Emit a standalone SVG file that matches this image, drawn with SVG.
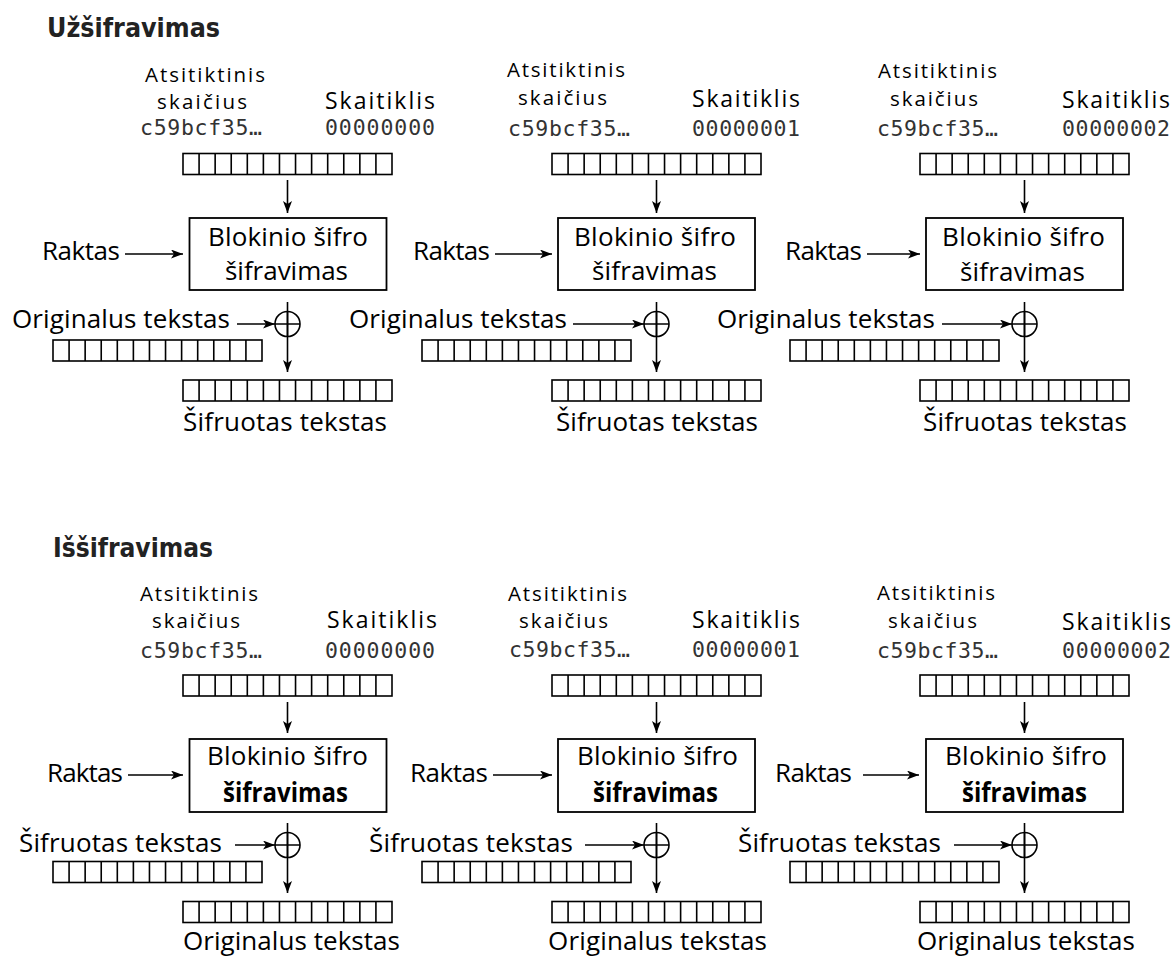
<svg xmlns="http://www.w3.org/2000/svg" xmlns:xlink="http://www.w3.org/1999/xlink" width="1176" height="956" viewBox="0 0 1176 956">
  <style>
    .ln { fill: none; stroke: #000; stroke-width: 1.6; }
    .arr { fill: none; stroke: #000; stroke-width: 1.6; marker-end: url(#ah); }
    .box { fill: #fff; stroke: #000; stroke-width: 1.8; }
    .t { font-family: "Open Sans", "Noto Sans", sans-serif; fill: #000; }
    .big { font-size: 26px; }
    .sm { font-size: 20.5px; }
    .md { font-size: 23px; }
    .b { font-weight: bold; }
    .mono { font-family: "DejaVu Sans Mono", "Liberation Mono", monospace; font-size: 21.5px; fill: #333; }
    .title { font-family: "DejaVu Sans", sans-serif; font-weight: bold; font-size: 26px; fill: #222; }
  </style>
  <defs>
    <marker id="ah" markerWidth="13" markerHeight="10" refX="12" refY="4.5" orient="auto" markerUnits="userSpaceOnUse">
      <path d="M0,0 L12,4.5 L0,9 L3,4.5 z" fill="#000"/>
    </marker>
    <!-- 13-cell block register -->
    <g id="reg">
      <rect class="ln" x="0" y="0" width="209" height="21"/>
      <path class="ln" d="M16.08 0V21M32.15 0V21M48.23 0V21M64.31 0V21M80.38 0V21M96.46 0V21M112.54 0V21M128.62 0V21M144.69 0V21M160.77 0V21M176.85 0V21M192.92 0V21"/>
    </g>
    <!-- XOR operator -->
    <g id="xor">
      <circle class="ln" cx="0" cy="0" r="12.5" fill="#fff"/>
      <path class="ln" d="M-12.5 0H12.5M0 -12.5V12.5"/>
    </g>
  </defs>

  <rect width="1176" height="956" fill="#fff"/>

  <!-- ===== Encryption ===== -->
  <text class="title" x="47" y="37" textLength="173" lengthAdjust="spacingAndGlyphs">Užšifravimas</text>

  <!-- column 1 -->
  <g id="enc1-counter">
    <text class="t sm" x="145" y="82" textLength="120">Atsitiktinis</text>
    <text class="t sm" x="157" y="109" textLength="90">skaičius</text>
    <text class="mono" x="140" y="135" textLength="122">c59bcf35…</text>
    <text class="t md" x="325" y="109" textLength="110">Skaitiklis</text>
    <text class="mono" x="325" y="135" textLength="110">00000000</text>
    <use href="#reg" x="183" y="153.5"/>
  </g>
  <g id="enc1-key"><text class="t big" x="42" y="260" textLength="78">Raktas</text></g>
  <g id="enc1-cipher">
    <rect class="box" x="189.5" y="218" width="197" height="72"/>
    <text class="t big" x="208" y="246" textLength="160">Blokinio šifro</text>
    <text class="t big" x="225" y="280" textLength="123">šifravimas</text>
  </g>
  <g id="enc1-plain">
    <text class="t big" x="12" y="328" textLength="218">Originalus tekstas</text>
    <use href="#reg" x="53" y="340"/>
  </g>
  <g id="enc1-out">
    <use href="#reg" x="183" y="380"/>
    <text class="t big" x="183" y="431" textLength="204">Šifruotas tekstas</text>
  </g>

  <!-- column 2 -->
  <g id="enc2-counter">
    <text class="t sm" x="507" y="77" textLength="118">Atsitiktinis</text>
    <text class="t sm" x="518" y="105" textLength="89">skaičius</text>
    <text class="mono" x="508" y="136" textLength="122">c59bcf35…</text>
    <text class="t md" x="692" y="107" textLength="108">Skaitiklis</text>
    <text class="mono" x="692" y="136" textLength="108">00000001</text>
    <use href="#reg" x="552" y="153.5"/>
  </g>
  <g id="enc2-key"><text class="t big" x="413" y="260" textLength="77">Raktas</text></g>
  <g id="enc2-cipher">
    <rect class="box" x="558" y="218" width="197" height="72"/>
    <text class="t big" x="574" y="246" textLength="162">Blokinio šifro</text>
    <text class="t big" x="592" y="280" textLength="125">šifravimas</text>
  </g>
  <g id="enc2-plain">
    <text class="t big" x="349" y="328" textLength="218">Originalus tekstas</text>
    <use href="#reg" x="422" y="340"/>
  </g>
  <g id="enc2-out">
    <use href="#reg" x="552" y="380"/>
    <text class="t big" x="556" y="431" textLength="202">Šifruotas tekstas</text>
  </g>

  <!-- column 3 -->
  <g id="enc3-counter">
    <text class="t sm" x="878" y="78" textLength="119">Atsitiktinis</text>
    <text class="t sm" x="890" y="106" textLength="88">skaičius</text>
    <text class="mono" x="877" y="136" textLength="121">c59bcf35…</text>
    <text class="t md" x="1062" y="108" textLength="108">Skaitiklis</text>
    <text class="mono" x="1062" y="136" textLength="108">00000002</text>
    <use href="#reg" x="920" y="153.5"/>
  </g>
  <g id="enc3-key"><text class="t big" x="785" y="260" textLength="77">Raktas</text></g>
  <g id="enc3-cipher">
    <rect class="box" x="926" y="218" width="197" height="72"/>
    <text class="t big" x="942" y="246" textLength="163">Blokinio šifro</text>
    <text class="t big" x="960" y="281" textLength="125">šifravimas</text>
  </g>
  <g id="enc3-plain">
    <text class="t big" x="717" y="328" textLength="218">Originalus tekstas</text>
    <use href="#reg" x="790" y="340"/>
  </g>
  <g id="enc3-out">
    <use href="#reg" x="920" y="380"/>
    <text class="t big" x="923" y="431" textLength="204">Šifruotas tekstas</text>
  </g>

  <!-- ===== Decryption ===== -->
  <text class="title" x="53" y="557" textLength="160" lengthAdjust="spacingAndGlyphs">Iššifravimas</text>

  <!-- column 1 -->
  <g id="dec1-counter">
    <text class="t sm" x="140" y="601" textLength="118">Atsitiktinis</text>
    <text class="t sm" x="152" y="628" textLength="88">skaičius</text>
    <text class="mono" x="140" y="658" textLength="122">c59bcf35…</text>
    <text class="t md" x="327" y="628" textLength="110">Skaitiklis</text>
    <text class="mono" x="325" y="658" textLength="110">00000000</text>
    <use href="#reg" x="183" y="675"/>
  </g>
  <g id="dec1-key"><text class="t big" x="47" y="782" textLength="76">Raktas</text></g>
  <g id="dec1-cipher">
    <rect class="box" x="189.5" y="739" width="197" height="73"/>
    <text class="t big" x="207" y="765" textLength="161">Blokinio šifro</text>
    <text class="t big b" x="223" y="802" textLength="125" lengthAdjust="spacingAndGlyphs">šifravimas</text>
  </g>
  <g id="dec1-in">
    <text class="t big" x="19" y="852" textLength="203">Šifruotas tekstas</text>
    <use href="#reg" x="53" y="861.5"/>
  </g>
  <g id="dec1-out">
    <use href="#reg" x="183" y="901.5"/>
    <text class="t big" x="183" y="950" textLength="217">Originalus tekstas</text>
  </g>

  <!-- column 2 -->
  <g id="dec2-counter">
    <text class="t sm" x="508" y="601" textLength="119">Atsitiktinis</text>
    <text class="t sm" x="519" y="628" textLength="89">skaičius</text>
    <text class="mono" x="509" y="657" textLength="121">c59bcf35…</text>
    <text class="t md" x="692" y="628" textLength="108">Skaitiklis</text>
    <text class="mono" x="692" y="657" textLength="108">00000001</text>
    <use href="#reg" x="552" y="675"/>
  </g>
  <g id="dec2-key"><text class="t big" x="410" y="782" textLength="78">Raktas</text></g>
  <g id="dec2-cipher">
    <rect class="box" x="558" y="739" width="197" height="73"/>
    <text class="t big" x="577" y="765" textLength="161">Blokinio šifro</text>
    <text class="t big b" x="593" y="802" textLength="125" lengthAdjust="spacingAndGlyphs">šifravimas</text>
  </g>
  <g id="dec2-in">
    <text class="t big" x="369" y="852" textLength="204">Šifruotas tekstas</text>
    <use href="#reg" x="422" y="861.5"/>
  </g>
  <g id="dec2-out">
    <use href="#reg" x="552" y="901.5"/>
    <text class="t big" x="548" y="950" textLength="219">Originalus tekstas</text>
  </g>

  <!-- column 3 -->
  <g id="dec3-counter">
    <text class="t sm" x="877" y="600" textLength="118">Atsitiktinis</text>
    <text class="t sm" x="888" y="628" textLength="89">skaičius</text>
    <text class="mono" x="877" y="658" textLength="121">c59bcf35…</text>
    <text class="t md" x="1062" y="630" textLength="109">Skaitiklis</text>
    <text class="mono" x="1062" y="658" textLength="109">00000002</text>
    <use href="#reg" x="920" y="675"/>
  </g>
  <g id="dec3-key"><text class="t big" x="775" y="782" textLength="77">Raktas</text></g>
  <g id="dec3-cipher">
    <rect class="box" x="926" y="739" width="197" height="73"/>
    <text class="t big" x="945" y="765" textLength="162">Blokinio šifro</text>
    <text class="t big b" x="962" y="802" textLength="125" lengthAdjust="spacingAndGlyphs">šifravimas</text>
  </g>
  <g id="dec3-in">
    <text class="t big" x="738" y="852" textLength="203">Šifruotas tekstas</text>
    <use href="#reg" x="790" y="861.5"/>
  </g>
  <g id="dec3-out">
    <use href="#reg" x="920" y="901.5"/>
    <text class="t big" x="917" y="950" textLength="218">Originalus tekstas</text>
  </g>

  <!-- connectors -->
  <g id="connectors">
    <!-- encryption -->
    <path class="arr" d="M287.5 180V213"/>
    <path class="arr" d="M125 254H183"/>
    <path class="arr" d="M287.5 302V372"/>
    <path class="arr" d="M237 324H275"/>

    <path class="arr" d="M656.5 180V213"/>
    <path class="arr" d="M495 254H552"/>
    <path class="arr" d="M656.5 302V372"/>
    <path class="arr" d="M573 324H644"/>

    <path class="arr" d="M1024.5 180V213"/>
    <path class="arr" d="M867 254H920"/>
    <path class="arr" d="M1024.5 302V372"/>
    <path class="arr" d="M942 324H1012"/>

    <!-- decryption -->
    <path class="arr" d="M287.5 702V733"/>
    <path class="arr" d="M128 775H183"/>
    <path class="arr" d="M287.5 823V893"/>
    <path class="arr" d="M235 845H275"/>

    <path class="arr" d="M656.5 702V733"/>
    <path class="arr" d="M493 775H552"/>
    <path class="arr" d="M656.5 823V893"/>
    <path class="arr" d="M585 845H644"/>

    <path class="arr" d="M1024.5 702V733"/>
    <path class="arr" d="M863 775H919"/>
    <path class="arr" d="M1024.5 823V893"/>
    <path class="arr" d="M954 845H1012"/>
  </g>

  <!-- XOR operators -->
  <g id="enc1-xor"><use href="#xor" x="287.5" y="324"/></g>
  <g id="enc2-xor"><use href="#xor" x="656.5" y="324"/></g>
  <g id="enc3-xor"><use href="#xor" x="1024.5" y="324"/></g>
  <g id="dec1-xor"><use href="#xor" x="287.5" y="845"/></g>
  <g id="dec2-xor"><use href="#xor" x="656.5" y="845"/></g>
  <g id="dec3-xor"><use href="#xor" x="1024.5" y="845"/></g>
</svg>
